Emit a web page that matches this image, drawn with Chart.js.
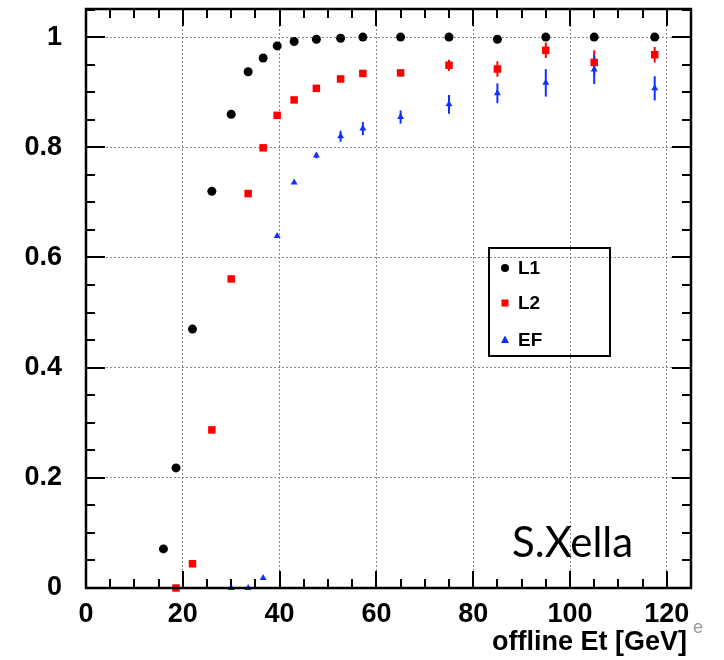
<!DOCTYPE html>
<html>
<head>
<meta charset="utf-8">
<script src="https://cdn.jsdelivr.net/npm/chart.js@4"></script>
<style>
html, body { margin: 0; padding: 0; background: #fff; }
#wrap { position: relative; width: 724px; height: 660px; }
</style>
</head>
<body>
<div id="wrap"><canvas id="effChart" width="724" height="660"></canvas></div>
<script>
// offline Et bin centres [GeV]
const etBins = [16, 18.6, 22, 26, 30, 33.5, 36.6, 39.5, 43, 47.6, 52.6, 57.2, 65, 75, 85, 95, 105, 117.5];
const l1Eff  = [0.071, 0.218, 0.47, 0.72, 0.86, 0.937, 0.962, 0.984, 0.992, 0.996, 0.998, 1.0, 1.0, 1.0, 0.996, 1.0, 1.0, 1.0];
const l2Eff  = [null, 0.0, 0.044, 0.287, 0.561, 0.716, 0.799, 0.858, 0.886, 0.907, 0.924, 0.934, 0.935, 0.949, 0.942, 0.976, 0.954, 0.968];
const l2Err  = [0, 0, 0, 0, 0, 0, 0, 0, 0, 0, 0, 0.004, 0.006, 0.01, 0.014, 0.014, 0.022, 0.014];
const efEff  = [null, null, null, null, 0.0, 0.0, 0.018, 0.639, 0.736, 0.785, 0.82, 0.834, 0.855, 0.878, 0.898, 0.917, 0.941, 0.907];
const efErr  = [0, 0, 0, 0, 0, 0, 0, 0, 0, 0.005, 0.01, 0.012, 0.012, 0.017, 0.018, 0.025, 0.026, 0.022];
const xTicks = [0, 20, 40, 60, 80, 100, 120];
const yTicks = [0, 0.2, 0.4, 0.6, 0.8, 1];
// minor tick marks (ROOT draws them inside the frame)
const xMinor = [0, 5, 10, 15, 20, 25, 30, 35, 40, 45, 50, 55, 60, 65, 70, 75, 80, 85, 90, 95, 100, 105, 110, 115, 120, 125];
const yMinor = [0, 0.05, 0.1, 0.15, 0.2, 0.25, 0.3, 0.35, 0.4, 0.45, 0.5, 0.55, 0.6, 0.65, 0.7, 0.75, 0.8, 0.85, 0.9, 0.95, 1, 1.05];

const X_MIN = 0, X_MAX = 125, Y_MIN = 0, Y_MAX = 1.051;

function toPoints(vals, errs) {
    return etBins.map((x, i) => ({ x: x, y: vals[i], err: errs ? errs[i] : 0 }))
                 .filter(p => p.y !== null);
}

const FONT = "'Liberation Sans', Arial, sans-serif";

function noEdgePadding(s) {
    s.paddingTop = 0; s.paddingBottom = 0;
    s.paddingLeft = 0; s.paddingRight = 0;
}

// error bars, frame with inner ticks, legend box, labels
const rootStyle = {
    id: 'rootStyle',
    beforeDatasetsDraw(chart) {
        const ctx = chart.ctx;
        const xs = chart.scales.x, ys = chart.scales.y;
        ctx.save();
        chart.data.datasets.forEach(ds => {
            ctx.strokeStyle = ds.borderColor;
            ctx.lineWidth = 2;
            ds.data.forEach(p => {
                if (!p.err) return;
                const px = xs.getPixelForValue(p.x);
                ctx.beginPath();
                ctx.moveTo(px, ys.getPixelForValue(p.y - p.err));
                ctx.lineTo(px, ys.getPixelForValue(p.y + p.err));
                ctx.stroke();
            });
        });
        ctx.restore();
    },
    afterDraw(chart) {
        const ctx = chart.ctx;
        const a = chart.chartArea;
        const L = a.left, R = a.right, T = a.top, B = a.bottom;
        const xPix = v => L + (v - X_MIN) / (X_MAX - X_MIN) * (R - L);
        const yPix = v => B - (v - Y_MIN) / (Y_MAX - Y_MIN) * (B - T);
        ctx.save();
        ctx.globalAlpha = 1;
        ctx.globalCompositeOperation = 'source-over';
        ctx.setLineDash([]);
        ctx.strokeStyle = '#000';
        ctx.fillStyle = '#000';
        ctx.lineWidth = 2.5;
        // frame
        ctx.strokeRect(L, T, R - L, B - T);
        // inner ticks
        for (let i = 0; i < xMinor.length; i++) {
            const v = xMinor[i];
            const px = Math.round(xPix(v));
            const len = xTicks.indexOf(v) >= 0 ? 17 : 9;
            ctx.fillRect(px - 1, Math.round(B) - len, 2, len);
            ctx.fillRect(px - 1, Math.round(T), 2, len);
        }
        for (let k = 0; k < yMinor.length; k++) {
            const py = Math.round(yPix(yMinor[k]));
            const len = k % 4 === 0 ? 19 : 9;
            ctx.fillRect(Math.round(L), py - 1, len, 2);
            ctx.fillRect(Math.round(R) - len, py - 1, len, 2);
        }

        // legend
        ctx.lineWidth = 2;
        ctx.strokeRect(489, 248, 121, 108);
        const rows = [268, 303, 340];
        ctx.font = 'bold 19px ' + FONT;
        ctx.textBaseline = 'middle';
        ctx.textAlign = 'left';
        chart.data.datasets.forEach((ds, i) => {
            const cx = 505, cy = rows[i];
            ctx.fillStyle = ds.backgroundColor;
            ctx.beginPath();
            if (ds.pointStyle === 'circle') {
                ctx.arc(cx, cy, 4, 0, Math.PI * 2);
            } else if (ds.pointStyle === 'rect') {
                ctx.rect(cx - 3.5, cy - 3.5, 7, 7);
            } else {
                ctx.moveTo(cx, cy - 4.5);
                ctx.lineTo(cx + 4, cy + 3);
                ctx.lineTo(cx - 4, cy + 3);
                ctx.closePath();
            }
            ctx.fill();
            ctx.fillStyle = '#000';
            ctx.fillText(ds.label, 518, cy + 1);
        });

        // axis title
        ctx.font = 'bold 27px ' + FONT;
        ctx.textAlign = 'right';
        ctx.fillText('offline Et [GeV]', 687, 643);
        ctx.fillStyle = '#9a9a9a';
        ctx.font = '18px ' + FONT;
        ctx.textAlign = 'left';
        ctx.fillText('e', 693, 628);

        // author tag
        ctx.fillStyle = '#000';
        ctx.font = '42px Lato, sans-serif';
        ctx.textBaseline = 'alphabetic';
        ctx.fillText('S.Xella', 512, 557);
        ctx.restore();
    }
};

new Chart(document.getElementById('effChart'), {
    type: 'scatter',
    data: {
        datasets: [{
            label: 'L1',
            data: toPoints(l1Eff),
            pointStyle: 'circle',
            pointRadius: 4.5,
            backgroundColor: '#000000',
            borderColor: '#000000',
            borderWidth: 0,
            clip: false,
            order: 3
        }, {
            label: 'L2',
            data: toPoints(l2Eff, l2Err),
            pointStyle: 'rect',
            pointRadius: 5.3,
            backgroundColor: '#ff0000',
            borderColor: '#ff0000',
            borderWidth: 0,
            clip: false,
            order: 2
        }, {
            label: 'EF',
            data: toPoints(efEff, efErr),
            pointStyle: 'triangle',
            pointRadius: 4,
            backgroundColor: '#1030ff',
            borderColor: '#1030ff',
            borderWidth: 0,
            clip: false,
            order: 1
        }]
    },
    options: {
        responsive: false,
        animation: false,
        devicePixelRatio: 1,
        layout: { padding: { top: 9, right: 33, left: 0, bottom: 0 } },
        plugins: { legend: { display: false }, tooltip: { enabled: false } },
        scales: {
            x: {
                type: 'linear',
                min: X_MIN,
                max: X_MAX,
                afterBuildTicks: s => { s.ticks = xTicks.map(v => ({ value: v })); },
                afterFit: s => { s.height = 72; noEdgePadding(s); },
                grid: { color: '#8a8a8a', lineWidth: 1, drawTicks: false },
                border: { display: false, dash: [2, 2] },
                ticks: {
                    color: '#000',
                    padding: 10,
                    maxRotation: 0,
                    autoSkip: false,
                    font: { family: FONT, size: 27, weight: 'bold' }
                }
            },
            y: {
                type: 'linear',
                min: Y_MIN,
                max: Y_MAX,
                afterBuildTicks: s => { s.ticks = yTicks.map(v => ({ value: v })); },
                afterFit: s => { s.width = 86; noEdgePadding(s); },
                grid: { color: '#8a8a8a', lineWidth: 1, drawTicks: false },
                border: { display: false, dash: [2, 2] },
                ticks: {
                    color: '#000',
                    padding: 24,
                    autoSkip: false,
                    callback: v => String(v),
                    font: { family: FONT, size: 27, weight: 'bold' }
                }
            }
        }
    },
    plugins: [rootStyle]
});
</script>
</body>
</html>
